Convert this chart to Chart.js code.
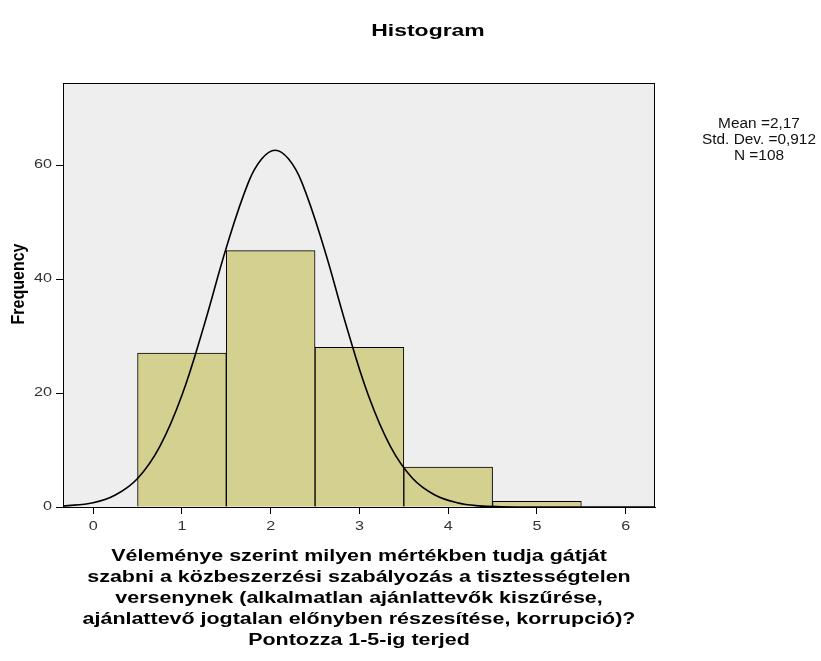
<!DOCTYPE html>
<html>
<head>
<meta charset="utf-8">
<script src="https://cdn.jsdelivr.net/npm/chart.js@4/dist/chart.umd.min.js"></script>
<style>
  html, body { margin: 0; padding: 0; background: #ffffff; }
  #wrap { width: 821px; height: 661px; }
</style>
</head>
<body>
<div id="wrap"><canvas id="chart" width="821" height="661"></canvas></div>
<script>
// histogram bins (value 1..5) and their counts
const binCenters = [1, 2, 3, 4, 5];
const frequencies = [27, 45, 28, 7, 1];

// normal curve
const curveX = [-0.34, 0, 0.25, 0.5, 0.75, 1.0, 1.25, 1.5, 1.75, 1.9, 2.05, 2.2, 2.35, 2.6, 2.85, 3.1, 3.35, 3.6, 3.85, 4.1, 4.35, 4.6, 5.0, 6.33];
const curveY = [0.15, 0.75, 2.1, 5.0, 10.6, 19.6, 31.9, 45.5, 57, 61.1, 62.6, 61.1, 57, 45.5, 31.9, 19.6, 10.6, 5.0, 2.1, 0.75, 0.2, 0.05, 0, 0];

const xTicks = [0, 1, 2, 3, 4, 5, 6];
const yTicks = [0, 20, 40, 60];

const chartTitle = "Histogram";
const statsLines = ["Mean =2,17", "Std. Dev. =0,912", "N =108"];
const yTitle = "Frequency";
const xTitleLines = [
  "Véleménye szerint milyen mértékben tudja gátját",
  "szabni a közbeszerzési szabályozás a tisztességtelen",
  "versenynek (alkalmatlan ajánlattevők kiszűrése,",
  "ajánlattevő jogtalan előnyben részesítése, korrupció)?",
  "Pontozza 1-5-ig terjed"
];

const FONT = "'Liberation Sans', Arial, sans-serif";

// the picture is stretched sideways, so text is drawn wider than tall
function wideText(ctx, text, x, y, sx, align) {
  ctx.save();
  ctx.translate(x, y);
  ctx.scale(sx, 1);
  ctx.textAlign = align || "center";
  ctx.fillText(text, 0, 0);
  ctx.restore();
}

const frame = {
  id: "frame",
  beforeDatasetsDraw(chart) {
    const { ctx, chartArea: a } = chart;
    ctx.save();
    ctx.fillStyle = "#eeeeee";
    ctx.fillRect(a.left, a.top, a.right - a.left, a.bottom - a.top);
    ctx.restore();
  },
  afterDatasetsDraw(chart) {
    const { ctx, chartArea: a } = chart;
    ctx.save();
    ctx.strokeStyle = "#000";
    ctx.lineWidth = 1;
    ctx.strokeRect(a.left + 0.5, a.top + 0.5, a.right - a.left - 1, a.bottom - a.top);
    ctx.restore();
  },
  afterDraw(chart) {
    const ctx = chart.ctx;
    const x = chart.scales.x, y = chart.scales.y, a = chart.chartArea;
    ctx.save();
    ctx.textBaseline = "middle";

    ctx.fillStyle = "#000";
    ctx.font = "bold 17px " + FONT;
    wideText(ctx, chartTitle, 428, 31, 1.35);

    ctx.font = "14px " + FONT;
    ctx.fillStyle = "#111";
    statsLines.forEach((s, i) => wideText(ctx, s, 759, 124 + i * 16, 1.1));

    // tick labels
    ctx.font = "12px " + FONT;
    ctx.fillStyle = "#333";
    xTicks.forEach(v => wideText(ctx, String(v), x.getPixelForValue(v), 527, 1.35));
    yTicks.forEach(v => wideText(ctx, String(v), 52, y.getPixelForValue(v), 1.35, "right"));

    // axis titles
    ctx.fillStyle = "#000";
    ctx.font = "bold 16px " + FONT;
    xTitleLines.forEach((s, i) => wideText(ctx, s, (a.left + a.right) / 2, 557 + i * 21, 1.34));

    ctx.save();
    ctx.translate(19, 284);
    ctx.rotate(-Math.PI / 2);
    ctx.scale(1, 1.2);
    ctx.textAlign = "center";
    ctx.fillText(yTitle, 0, 0);
    ctx.restore();

    ctx.restore();
  }
};

new Chart(document.getElementById("chart"), {
  type: "bar",
  data: {
    datasets: [
      {
        type: "line",
        data: curveX.map((x, i) => ({ x: x, y: curveY[i] })),
        borderColor: "#000",
        borderWidth: 1.6,
        pointRadius: 0,
        tension: 0.4,
        fill: false,
        order: 1
      },
      {
        type: "bar",
        data: binCenters.map((x, i) => ({ x: x, y: frequencies[i] })),
        backgroundColor: "#d4d08f",
        borderColor: "#000",
        borderWidth: 1,
        barPercentage: 1,
        categoryPercentage: 1,
        order: 2
      }
    ]
  },
  options: {
    responsive: false,
    animation: false,
    layout: { padding: { left: 0, right: 166, top: 83, bottom: 0 } },
    plugins: { legend: { display: false }, tooltip: { enabled: false } },
    scales: {
      x: {
        type: "linear",
        offset: false,
        min: -0.34,
        max: 6.33,
        afterFit(s) { s.height = 154; },
        afterBuildTicks(s) { s.ticks = xTicks.map(v => ({ value: v })); },
        ticks: { display: false },
        grid: { offset: false, drawOnChartArea: false, drawTicks: true, tickLength: 7, color: "#000" },
        border: { color: "#000" },
        title: { display: false }
      },
      y: {
        min: 0,
        max: 74.4,
        afterFit(s) { s.width = 63; },
        afterBuildTicks(s) { s.ticks = yTicks.map(v => ({ value: v })); },
        ticks: { display: false },
        grid: { drawOnChartArea: false, drawTicks: true, tickLength: 7, color: "#000" },
        border: { color: "#000" },
        title: { display: false }
      }
    }
  },
  plugins: [frame]
});
</script>
</body>
</html>
